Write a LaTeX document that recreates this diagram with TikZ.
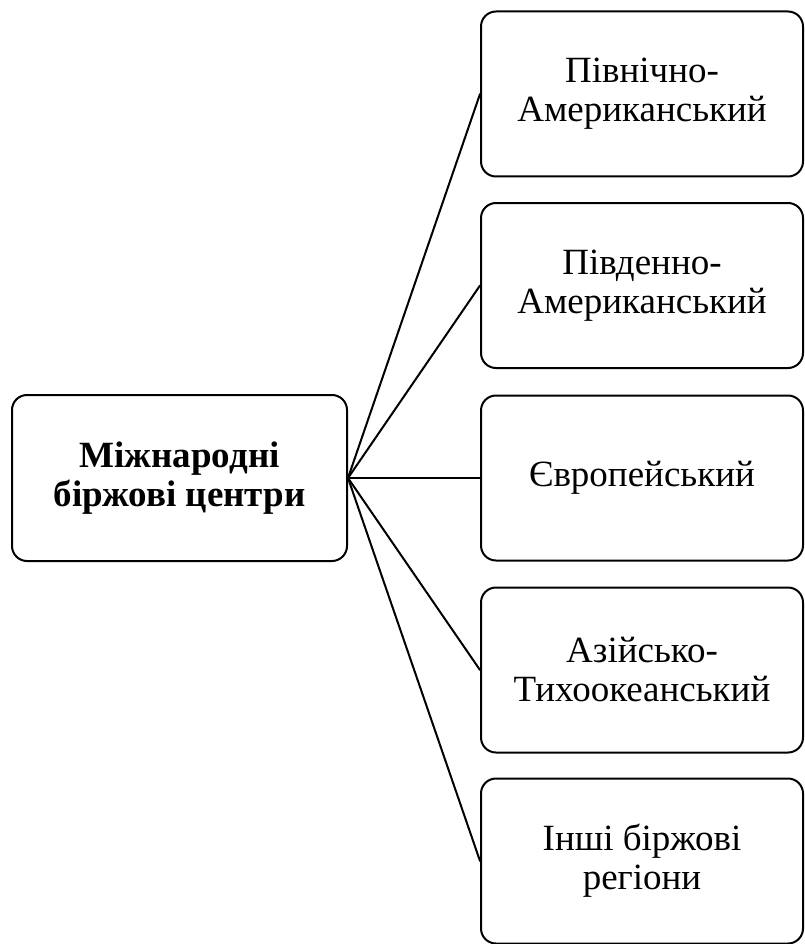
\documentclass[tikz,border=0pt]{standalone}
\usepackage{fontspec}
\setmainfont{Liberation Serif}
\usetikzlibrary{positioning}

\begin{document}
\begin{tikzpicture}[line cap=round,line join=round,x=1pt,y=-1pt]
\tikzset{
  regionbox/.style={draw, line width=2pt, fill=white, rounded corners=15pt,
    minimum width=322pt, minimum height=165pt, inner sep=0pt, align=center,
    font=\fontsize{37}{39}\selectfont},
  centrebox/.style={regionbox, minimum width=335pt, minimum height=166pt,
    font=\fontsize{37}{39}\selectfont\bfseries},
  link/.style={line width=2pt}
}
\def\rx{642}
\useasboundingbox (0,0) rectangle (804,944);

\node[centrebox] (centre) at (179.5,478) {Міжнародні\\біржові центри};

% regions
\foreach \name/\y/\txt in {north/94/{Північно-\\Американський},
    south/285.5/{Південно-\\Американський},
    europe/478/{Європейський},
    asia/670/{Азійсько-\\Тихоокеанський},
    other/861/{Інші біржові\\регіони}}{
  \node[regionbox] (\name) at (\rx,\y) {\txt};
  \draw[link] (centre.east) -- (\name.west);
}

\end{tikzpicture}
\end{document}
